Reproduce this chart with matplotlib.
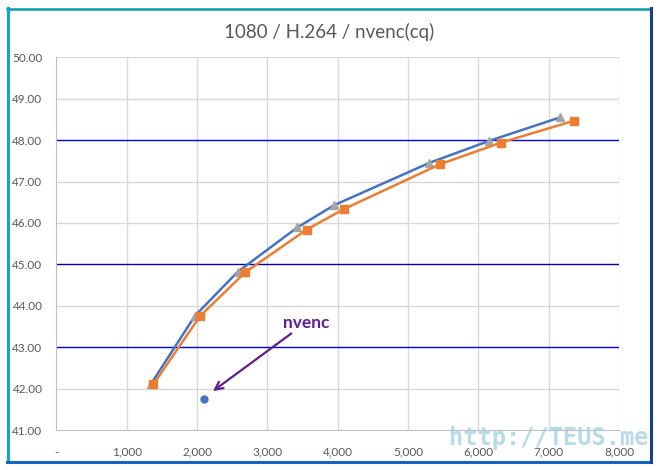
import matplotlib.pyplot as plt
from matplotlib.lines import Line2D
from matplotlib.ticker import FuncFormatter

# bitrate (kbps) vs quality
bitrate_a = [1341, 1971, 2578, 3425, 3951, 5302, 6151, 7165]
score_a = [42.10, 43.76, 44.82, 45.89, 46.43, 47.45, 47.98, 48.55]

bitrate_b = [1378, 2042, 2686, 3559, 4094, 5459, 6322, 7364]
score_b = [42.10, 43.75, 44.81, 45.84, 46.34, 47.42, 47.94, 48.47]

nvenc_x = [2103]
nvenc_y = [41.74]

title = "1080 / H.264 / nvenc(cq)"
x_ticks = [0, 1000, 2000, 3000, 4000, 5000, 6000, 7000, 8000]
y_ticks = [41, 42, 43, 44, 45, 46, 47, 48, 49, 50]

plt.rcParams['font.family'] = ['Lato', 'DejaVu Sans']

fig = plt.figure(figsize=(6.59, 4.70), dpi=100)
ax = fig.add_axes([0.0856, 0.0851, 0.8537, 0.7930])

ax.set_xlim(0, 8000)
ax.set_ylim(41, 50)
ax.set_xticks(x_ticks)
ax.set_yticks(y_ticks)
ax.xaxis.set_major_formatter(FuncFormatter(lambda v, p: '-' if v == 0 else f'{int(v):,}'))
ax.yaxis.set_major_formatter(FuncFormatter(lambda v, p: f'{v:.2f}'))
ax.tick_params(length=0, labelsize=8.5, labelcolor='#595959', pad=12)
ax.tick_params(axis='y', pad=10)

# gridlines: grey, with some horizontal ones highlighted
for xv in x_ticks[1:]:
    ax.axvline(xv, color='#d9d9d9', lw=1, zorder=0)
for yv in y_ticks[1:]:
    if yv in (43, 48):
        c = '#0000ff'
    elif yv == 45:
        c = '#0000b4'
    else:
        c = '#d9d9d9'
    ax.axhline(yv, color=c, lw=1, zorder=0.5)

for s in ['top', 'right']:
    ax.spines[s].set_visible(False)
for s in ['left', 'bottom']:
    ax.spines[s].set_color('#bfbfbf')

ax.plot(bitrate_a, score_a, color='#4472c4', lw=1.8, marker='^', ms=6,
        mfc='#a5a5a5', mec='#a5a5a5', zorder=3)
ax.plot(bitrate_b, score_b, color='#ed7d31', lw=1.8, marker='s', ms=5.5,
        mfc='#ed7d31', mec='#ed7d31', zorder=3)
ax.plot(nvenc_x, nvenc_y, 'o', color='#4472c4', ms=5, zorder=3)

ax.annotate('nvenc', xy=(2226, 41.94), xytext=(3220, 43.40),
            color='#5c1f8f', fontsize=12.5, fontweight='bold',
            arrowprops=dict(arrowstyle='->', color='#5c1f8f', lw=1.6,
                            shrinkA=0, shrinkB=0, mutation_scale=14),
            va='bottom', ha='left')

fig.text(0.5, 0.932, title, ha='center', va='center', fontsize=13.5, color='#595959')

# watermark
fig.text(0.682, 0.068, 'http://TEUS.me', fontsize=17, fontweight='bold',
         family='DejaVu Sans Mono', color='#9fcfe0', alpha=0.75, va='center', zorder=0)

# window frame
W, H = 659, 470
def fl(x0, y0, x1, y1, c, lw):
    fig.add_artist(Line2D([x0 / W, x1 / W], [1 - y0 / H, 1 - y1 / H], color=c, lw=lw))

fl(7, 8.5, 651, 8.5, '#0e9aa7', 1.8)
fl(7.5, 8, 7.5, 462, '#13a3d6', 2.2)
fl(7, 462, 651, 462, '#1565c0', 2.2)
fl(651, 8, 651, 462, '#1a3f8f', 2.2)

fig.savefig('out.png', dpi=100)
